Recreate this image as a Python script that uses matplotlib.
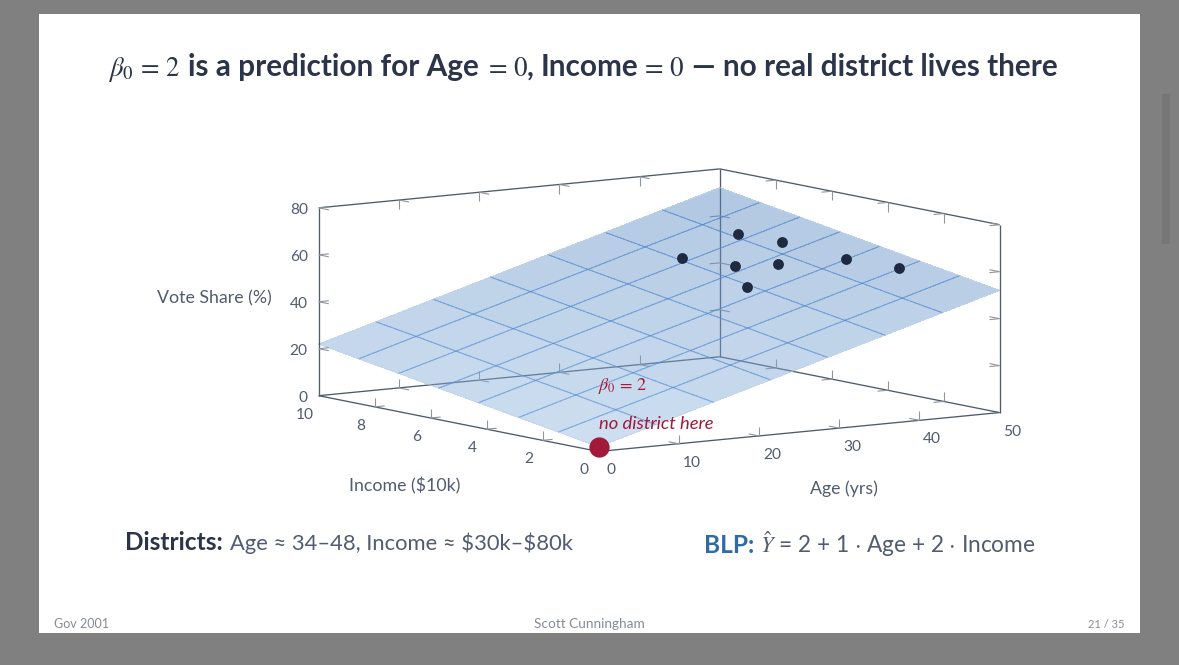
#!/usr/bin/env python
import matplotlib
matplotlib.use("Agg")
from matplotlib import pyplot as plt
from matplotlib.patches import Rectangle, FancyBboxPatch
from mpl_toolkits.mplot3d import proj3d
import numpy as np

plt.rcParams['font.family'] = ['Lato', 'DejaVu Sans']
plt.rcParams['mathtext.fontset'] = 'stix'

W, H = 1179, 665

# Districts
age = [36.2, 43.5, 44.9, 38.0, 40.9, 45.8, 47.6, 35.3]
income = [7.4, 7.5, 6.3, 6.0, 5.3, 4.3, 2.9, 4.8]
vote = [53.0, 60.5, 59.5, 52.1, 53.5, 56.4, 55.4, 46.9]

# Mesh of the fitted plane (8 samples per side)
age_grid = [0, 7.14, 14.29, 21.43, 28.57, 35.71, 42.86, 50]
income_grid = [0, 1.43, 2.86, 4.29, 5.71, 7.14, 8.57, 10]
plane_z = [
    [2.0, 9.1, 16.3, 23.4, 30.6, 37.7, 44.9, 52.0],
    [4.9, 12.0, 19.1, 26.3, 33.4, 40.6, 47.7, 54.9],
    [7.7, 14.9, 22.0, 29.1, 36.3, 43.4, 50.6, 57.7],
    [10.6, 17.7, 24.9, 32.0, 39.1, 46.3, 53.4, 60.6],
    [13.4, 20.6, 27.7, 34.9, 42.0, 49.1, 56.3, 63.4],
    [16.3, 23.4, 30.6, 37.7, 44.9, 52.0, 59.1, 66.3],
    [19.1, 26.3, 33.4, 40.6, 47.7, 54.9, 62.0, 69.1],
    [22.0, 29.1, 36.3, 43.4, 50.6, 57.7, 64.9, 72.0],
]

age_ticks = [0, 10, 20, 30, 40, 50]
income_ticks = [0, 2, 4, 6, 8, 10]
vote_ticks = [0, 20, 40, 60, 80]

SLATE = '#4f5b6b'
TICK = '#8f959e'
LABEL = '#525c70'
DARK = '#2b3448'
RED = '#a3193a'
BLUE = '#2f6ba5'
FOOT = '#858b99'

fig = plt.figure(figsize=(W / 100, H / 100), dpi=100, facecolor='#808080')
fig.patches.append(Rectangle((39 / W, 1 - 633 / H), 1101 / W, 619 / H, transform=fig.transFigure,
                             facecolor='white', edgecolor='none', figure=fig, zorder=-2))
fig.patches.append(FancyBboxPatch((1162 / W, 1 - 244 / H), 8 / W, 150 / H, transform=fig.transFigure,
                                  boxstyle='round,pad=0', facecolor='#767676', edgecolor='none', figure=fig,
                                  zorder=-2))

ax = fig.add_axes([0, (1 - W / H) / 2, 1, W / H], projection='3d', proj_type='ortho', computed_zorder=False)
ax.set_axis_off()
ax.patch.set_visible(False)
ax.view_init(elev=8.0, azim=235.1)
ax.set_xlim(0, 50, view_margin=0)
ax.set_ylim(0, 10, view_margin=0)
ax.set_zlim(0, 80, view_margin=0)
aspect = (1, 1, 0.388)
ax.set_box_aspect(aspect)


def screen(a, i, z):
    x, y, _ = proj3d.proj_transform(a, i, z, ax.get_proj())
    return ax.transData.transform((x, y))


# line the box up with the reference: floor corner at (598.5, 452), age edge 401 px wide
ax.apply_aspect()
ax.set_box_aspect(aspect, zoom=401 / (screen(50, 0, 0)[0] - screen(0, 0, 0)[0]))
p0 = screen(0, 0, 0)
pos = ax.get_position(original=True)
ax.set_position([pos.x0 + (598.5 - p0[0]) / W, pos.y0 + (H - 451.5 - p0[1]) / H, pos.width, pos.height])
ax.apply_aspect()


def seg(p, q, color=SLATE, lw=0.95, zorder=1):
    ax.plot([p[0], q[0]], [p[1], q[1]], [p[2], q[2]], color=color, lw=lw, zorder=zorder,
            solid_capstyle='butt')


# tick lengths in data units
da, di, dz = 1.25, 0.36, 3.9


def tick(base, dirs, zorder=1):
    for d in dirs:
        seg(base, (base[0] + d[0], base[1] + d[1], base[2] + d[2]), color=TICK, lw=0.8, zorder=zorder)


# back box lines, seen through the plane
seg((0, 10, 0), (50, 10, 0))
seg((50, 10, 0), (50, 0, 0))
seg((50, 10, 0), (50, 10, 80))
for a in age_ticks[1:-1]:
    tick((a, 10, 0), [(0, 0, dz), (0, -di, 0)])
for i in income_ticks[1:-1]:
    tick((50, i, 0), [(0, 0, dz), (-da, 0, 0)])
for z in vote_ticks[1:-1]:
    tick((50, 10, z), [(-da, 0, 0), (0, -di, 0)])

# plane
faces = []
for r in range(7):
    row = []
    for c in range(7):
        f = (plane_z[r][c] + plane_z[r + 1][c + 1] - 2) / 140
        row.append(((0.58 - 0.25 * f), (0.73 - 0.21 * f), (0.88 - 0.13 * f), 0.45))
    faces.append(row)
X = np.array([age_grid for _ in income_grid])
Y = np.array([[i] * len(age_grid) for i in income_grid])
ax.plot_surface(X, Y, np.array(plane_z), facecolors=np.array(faces), shade=False, rstride=1, cstride=1,
                linewidth=0, antialiased=False, zorder=2)
# mesh lines
for k in range(1, 7):
    ax.plot(age_grid, [income_grid[k]] * 8, plane_z[k], color='#3f7fd0', alpha=0.38, lw=0.9, zorder=3)
    ax.plot([age_grid[k]] * 8, income_grid, [row[k] for row in plane_z], color='#3f7fd0', alpha=0.38, lw=0.9, zorder=3)
# soft rim so the unantialiased plane edge is not jagged
for r_a, r_i, r_z in [(age_grid, [0] * 8, plane_z[0]), (age_grid, [10] * 8, plane_z[7]),
                      ([0] * 8, income_grid, [row[0] for row in plane_z]),
                      ([50] * 8, income_grid, [row[7] for row in plane_z])]:
    ax.plot(r_a, r_i, r_z, color='#c0d4ea', alpha=0.6, lw=0.7, zorder=3)

# front and top box lines
seg((0, 10, 0), (0, 0, 0), zorder=4)
seg((0, 0, 0), (50, 0, 0), zorder=4)
seg((0, 10, 0), (0, 10, 80), zorder=4)
seg((50, 0, 0), (50, 0, 80), zorder=4)
seg((0, 10, 80), (50, 10, 80), zorder=4)
seg((50, 10, 80), (50, 0, 80), zorder=4)
for a in age_ticks[1:-1]:
    tick((a, 0, 0), [(0, 0, dz), (0, di, 0)], zorder=4)
    tick((a, 10, 80), [(0, 0, -dz), (0, -di, 0)], zorder=4)
for i in income_ticks[1:-1]:
    tick((0, i, 0), [(0, 0, dz), (da, 0, 0)], zorder=4)
    tick((50, i, 80), [(0, 0, -dz), (-da, 0, 0)], zorder=4)
for z in vote_ticks[1:]:
    tick((0, 10, z), [(da, 0, 0), (0, -di, 0)], zorder=4)
    tick((50, 0, z), [(-da, 0, 0), (0, di, 0)], zorder=4)

# points
ax.plot(age, income, vote, ls='none', marker='o', ms=7.8, color='#1f2940', mec='none', zorder=5)
ax.plot([0], [0], [2], ls='none', marker='o', ms=14.6, color=RED, mec='none', zorder=6)


def put(x, y, s, **kw):
    kw.setdefault('va', 'baseline')
    return fig.text(x / W, 1 - y / H, s, parse_math=kw.pop('math', False), **kw)


def put3d(a, i, z, dx, dy, s, **kw):
    # text next to a data point, dx/dy in pixels (dy downwards)
    p = screen(a, i, z)
    return put(p[0] + dx, H - p[1] + dy, s, va='center', **kw)


# tick labels
for z in vote_ticks:
    put3d(0, 10, z, -11, 2, str(z), ha='right', fontsize=11.2, color=LABEL)
for i in income_ticks:
    put3d(0, i, 0, -14, 19, str(i), ha='center', fontsize=11.2, color=LABEL)
for a in age_ticks:
    put3d(a, 0, 0, 13, 19, str(a), ha='center', fontsize=11.2, color=LABEL)

# notes at the origin
put3d(0, 0, 28.5, 0, 1, r'$\beta_0$ = 2', ha='left', fontsize=13, color=RED, math=True, family='STIXGeneral')
put3d(0, 0, 12.2, 0.5, 1, 'no district here', ha='left', fontsize=13.2, style='italic', color=RED)

put(214, 298, 'Vote Share (%)', ha='center', va='center', fontsize=12.8, color=LABEL)
put(405, 486, 'Income ($10k)', ha='center', va='center', fontsize=12.8, color=LABEL)
put(844, 489, 'Age (yrs)', ha='center', va='center', fontsize=12.8, color=LABEL)

# title, run by run
TS = 21.4
put(108, 76, r'$\beta_0$ = 2', fontsize=19.4, color=DARK, math=True, family='STIXGeneral')
put(188, 76, 'is a prediction for Age', fontsize=TS, fontweight='bold', color=DARK)
put(489, 76, '= 0', fontsize=19.4, color=DARK, family='STIXGeneral')
put(527, 76, ',', fontsize=TS, fontweight='bold', color=DARK)
put(541, 76, 'Income', fontsize=TS, fontweight='bold', color=DARK)
put(645, 76, '= 0', fontsize=19.4, color=DARK, family='STIXGeneral')
put(692, 76, '\u2014 no real district lives there', fontsize=TS, fontweight='bold', color=DARK)

# lines under the chart
put(125, 550, 'Districts:', fontsize=17.6, fontweight='bold', color=DARK)
put(230, 550, 'Age \u2248 34\u201348, Income \u2248 $30k\u2013$80k', fontsize=15.8, color=LABEL)
put(704, 553, 'BLP:', fontsize=17.6, fontweight='bold', color=BLUE)
put(760, 553, r'$\hat{Y}$ = 2 + 1 $\cdot$ Age + 2 $\cdot$ Income', fontsize=16.3, color=LABEL, math=True)

# footer
put(54, 628, 'Gov 2001', fontsize=9, color=FOOT)
put(589, 628, 'Scott Cunningham', fontsize=9.8, color=FOOT, ha='center')
put(1125, 628, '21 / 35', fontsize=8, color=FOOT, ha='right')

fig.savefig('out.png', dpi=100, facecolor=fig.get_facecolor())
